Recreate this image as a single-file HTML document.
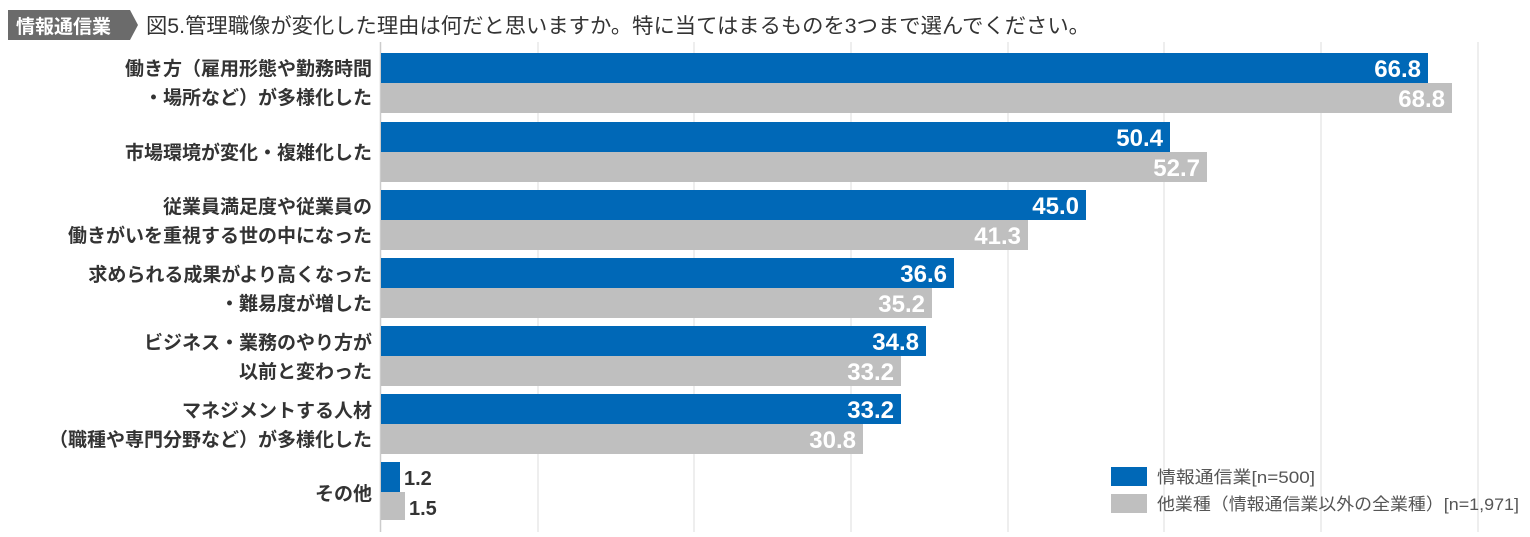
<!DOCTYPE html>
<html><head><meta charset="utf-8"><style>
body{margin:0;background:#fff;width:1530px;height:532px;overflow:hidden}
svg text{font-family:"Liberation Sans","Noto Sans CJK JP",sans-serif}
</style></head><body>
<svg width="1530" height="532" viewBox="0 0 1530 532">
<polygon points="8,10 130,10 138,25 130,40 8,40" fill="#6b6b6b"/>
<text x="16" y="33" font-size="19" font-weight="bold" fill="#fff">情報通信業</text>
<text x="146" y="33" font-size="21" fill="#333" textLength="944" lengthAdjust="spacingAndGlyphs">図5.管理職像が変化した理由は何だと思いますか。特に当てはまるものを3つまで選んでください。</text>
<g stroke="#ddd" stroke-width="1">
<line x1="538" y1="42" x2="538" y2="532"/><line x1="694" y1="42" x2="694" y2="532"/><line x1="851" y1="42" x2="851" y2="532"/><line x1="1008" y1="42" x2="1008" y2="532"/><line x1="1164" y1="42" x2="1164" y2="532"/><line x1="1321" y1="42" x2="1321" y2="532"/><line x1="1478" y1="42" x2="1478" y2="532"/>
</g>
<line x1="380.5" y1="42" x2="380.5" y2="532" stroke="#ccc" stroke-width="1.5"/>
<g fill="#0068b7">
<rect x="381" y="53" width="1047" height="30"/><rect x="381" y="122" width="789" height="30"/><rect x="381" y="190" width="705" height="30"/><rect x="381" y="258" width="573" height="30"/><rect x="381" y="326" width="545" height="30"/><rect x="381" y="394" width="520" height="30"/><rect x="381" y="462" width="19" height="30"/>
</g>
<g fill="#bfbfbf">
<rect x="381" y="83" width="1071" height="30"/><rect x="381" y="152" width="826" height="30"/><rect x="381" y="220" width="647" height="30"/><rect x="381" y="288" width="551" height="30"/><rect x="381" y="356" width="520" height="30"/><rect x="381" y="424" width="482" height="30"/><rect x="381" y="492" width="24" height="28"/>
</g>
<g font-size="24" font-weight="bold" fill="#fff" text-anchor="end">
<text x="1421" y="77">66.8</text><text x="1445" y="107">68.8</text>
<text x="1163" y="146">50.4</text><text x="1200" y="176">52.7</text>
<text x="1079" y="214">45.0</text><text x="1021" y="244">41.3</text>
<text x="947" y="282">36.6</text><text x="925" y="312">35.2</text>
<text x="919" y="350">34.8</text><text x="894" y="380">33.2</text>
<text x="894" y="418">33.2</text><text x="856" y="448">30.8</text>
</g>
<g font-size="20" font-weight="bold" fill="#333">
<text x="404" y="485">1.2</text><text x="409" y="515">1.5</text>
</g>
<g font-size="19" font-weight="bold" fill="#333" text-anchor="end">
<text x="372" y="75">働き方（雇用形態や勤務時間</text><text x="372" y="104">・場所など）が多様化した</text>
<text x="372" y="159">市場環境が変化・複雑化した</text>
<text x="372" y="213">従業員満足度や従業員の</text><text x="372" y="242">働きがいを重視する世の中になった</text>
<text x="372" y="281">求められる成果がより高くなった</text><text x="372" y="310">・難易度が増した</text>
<text x="372" y="349">ビジネス・業務のやり方が</text><text x="372" y="378">以前と変わった</text>
<text x="372" y="417">マネジメントする人材</text><text x="372" y="446">（職種や専門分野など）が多様化した</text>
<text x="372" y="500">その他</text>
</g>
<rect x="1111" y="467" width="36" height="19" fill="#0068b7"/>
<rect x="1111" y="494" width="36" height="19" fill="#bfbfbf"/>
<g font-size="17" fill="#555">
<text x="1157" y="483" textLength="158" lengthAdjust="spacingAndGlyphs">情報通信業[n=500]</text>
<text x="1157" y="510" textLength="362" lengthAdjust="spacingAndGlyphs">他業種（情報通信業以外の全業種）[n=1,971]</text>
</g>
</svg>
</body></html>
